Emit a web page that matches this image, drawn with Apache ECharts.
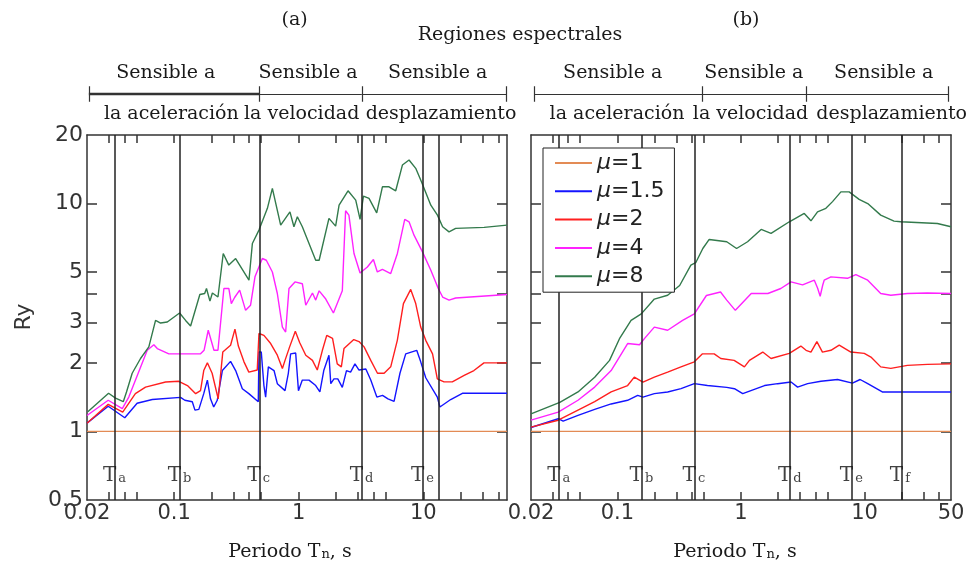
<!DOCTYPE html>
<html>
<head>
<meta charset="utf-8">
<script src="https://cdn.jsdelivr.net/npm/echarts@6/dist/echarts.min.js"></script>
<style>
  html, body { margin: 0; padding: 0; background: #fff; }
  #chart { width: 976px; height: 567px; }
</style>
</head>
<body>
<div id="chart"></div>
<script>
// Yield-strength reduction factor Ry versus natural period Tn (s),
// two ground motions (a) and (b), one curve per ductility factor μ.

const muNames = ['μ=1', 'μ=1.5', 'μ=2', 'μ=4', 'μ=8'];

// ---- panel (a): [period, Ry] ----
const a_mu1 = [[0.02, 1], [47, 1]];
const a_mu15 = [[0.02,1.087],[0.0296,1.29],[0.0402,1.148],[0.0505,1.33],[0.0668,1.38],[0.1127,1.41],[0.122,1.37],[0.14,1.35],[0.147,1.24],[0.158,1.25],[0.173,1.465],[0.185,1.68],[0.196,1.39],[0.208,1.28],[0.222,1.37],[0.244,1.85],[0.284,2.03],[0.312,1.85],[0.353,1.54],[0.398,1.465],[0.474,1.35],[0.48,2.23],[0.501,2.23],[0.526,1.59],[0.543,1.415],[0.571,1.92],[0.634,1.85],[0.674,1.62],[0.777,1.51],[0.826,1.8],[0.862,2.19],[0.946,2.21],[0.996,1.51],[1.07,1.68],[1.21,1.68],[1.37,1.59],[1.48,1.49],[1.59,1.85],[1.75,2.16],[1.81,1.62],[1.92,1.70],[2.06,1.70],[2.24,1.56],[2.42,1.85],[2.61,1.82],[2.83,1.98],[3.05,1.86],[3.46,1.88],[3.79,1.68],[4.24,1.415],[4.71,1.44],[5.21,1.39],[5.83,1.355],[6.5,1.8],[7.23,2.19],[8.86,2.27],[9.54,2.02],[10.47,1.72],[12.97,1.415],[13.6,1.28],[16.6,1.38],[20.6,1.47],[47,1.47]];
const a_mu2 = [[0.02,1.087],[0.0296,1.314],[0.0387,1.215],[0.0489,1.465],[0.059,1.565],[0.0855,1.647],[0.109,1.66],[0.128,1.59],[0.149,1.465],[0.163,1.51],[0.173,1.85],[0.185,2.0],[0.202,1.8],[0.226,1.39],[0.246,2.23],[0.284,2.39],[0.308,2.81],[0.328,2.37],[0.364,2.02],[0.398,1.82],[0.465,1.86],[0.48,2.69],[0.526,2.64],[0.596,2.43],[0.674,2.16],[0.74,1.89],[0.777,2.05],[0.846,2.35],[0.94,2.75],[1.02,2.45],[1.14,2.16],[1.29,2.05],[1.41,1.86],[1.55,2.27],[1.68,2.64],[1.87,2.56],[2.04,1.98],[2.2,1.92],[2.31,2.31],[2.53,2.42],[2.77,2.53],[3.05,2.48],[3.35,2.35],[3.79,2.05],[4.29,1.8],[4.85,1.8],[5.48,1.92],[6.19,2.51],[6.93,3.64],[7.93,4.2],[8.7,3.64],[9.54,2.87],[10.47,2.51],[11.87,2.19],[12.97,1.7],[14.67,1.65],[17.1,1.65],[21.3,1.76],[25.5,1.85],[30.7,2.0],[47,2.0]];
const a_mu4 = [[0.02,1.175],[0.0296,1.37],[0.0384,1.26],[0.0433,1.415],[0.0609,2.27],[0.0688,2.40],[0.0733,2.31],[0.0908,2.19],[0.163,2.19],[0.174,2.27],[0.188,2.78],[0.209,2.27],[0.225,2.27],[0.251,4.24],[0.275,4.24],[0.288,3.64],[0.306,3.87],[0.336,4.17],[0.375,3.40],[0.411,3.58],[0.446,4.77],[0.511,5.74],[0.550,5.64],[0.615,5.01],[0.674,4.03],[0.740,2.87],[0.786,2.73],[0.836,4.24],[0.934,4.53],[1.07,4.45],[1.14,3.58],[1.29,4.05],[1.37,3.77],[1.46,4.14],[1.65,3.81],[1.90,3.31],[2.24,4.14],[2.38,9.30],[2.53,8.90],[2.78,6.04],[3.11,4.96],[3.56,5.27],[3.98,5.68],[4.28,5.01],[4.70,5.14],[5.48,4.93],[6.20,6.04],[7.10,8.52],[7.69,8.32],[8.43,7.27],[9.85,6.14],[11.5,5.10],[13.2,4.24],[14.3,3.89],[16.1,3.77],[18.2,3.85],[47,3.99]];
const a_mu8 = [[0.0203,1.22],[0.0298,1.47],[0.0339,1.40],[0.0391,1.35],[0.0415,1.49],[0.0461,1.80],[0.0538,2.09],[0.0627,2.35],[0.071,3.07],[0.0779,2.99],[0.0882,3.02],[0.1107,3.31],[0.1237,3.07],[0.1357,2.90],[0.161,3.99],[0.176,4.03],[0.182,4.24],[0.194,3.73],[0.203,4.05],[0.225,3.89],[0.248,6.04],[0.275,5.37],[0.312,5.74],[0.399,4.61],[0.425,6.68],[0.48,7.65],[0.561,9.53],[0.615,11.66],[0.717,8.04],[0.851,9.20],[0.916,7.91],[0.976,8.75],[1.07,7.91],[1.37,5.64],[1.46,5.64],[1.75,8.61],[1.98,7.96],[2.11,9.84],[2.49,11.38],[2.87,10.36],[3.11,8.52],[3.31,10.79],[3.67,10.54],[4.23,9.11],[4.70,11.85],[5.31,11.85],[6.01,11.38],[6.80,14.76],[7.69,15.53],[8.70,14.28],[9.67,12.46],[11.5,9.84],[13.0,8.90],[14.3,7.91],[16.1,7.51],[18.2,7.78],[30.8,7.86],[47,8.04]];

// ---- panel (b): [period, Ry] ----
const b_mu1 = [[0.02, 1], [50, 1]];
const b_mu15 = [[0.02,1.04],[0.0332,1.137],[0.0364,1.11],[0.048,1.175],[0.0655,1.25],[0.089,1.32],[0.121,1.37],[0.146,1.44],[0.161,1.415],[0.199,1.465],[0.255,1.49],[0.327,1.54],[0.419,1.62],[0.535,1.59],[0.767,1.56],[0.885,1.54],[1.033,1.465],[1.55,1.59],[1.98,1.62],[2.54,1.647],[2.87,1.565],[3.46,1.62],[4.43,1.66],[6.04,1.69],[7.97,1.63],[9.2,1.69],[10.6,1.62],[13.9,1.49],[50,1.49]];
const b_mu2 = [[0.02,1.044],[0.0332,1.12],[0.048,1.24],[0.0655,1.35],[0.089,1.49],[0.121,1.59],[0.137,1.73],[0.161,1.647],[0.199,1.73],[0.255,1.82],[0.327,1.92],[0.419,2.02],[0.488,2.19],[0.607,2.19],[0.686,2.09],[0.88,2.05],[1.066,1.92],[1.17,2.05],[1.5,2.23],[1.75,2.09],[2.46,2.2],[3.05,2.37],[3.36,2.27],[3.68,2.23],[4.11,2.48],[4.56,2.23],[5.34,2.27],[6.23,2.39],[7.74,2.23],[9.94,2.2],[11.25,2.12],[13.5,1.92],[16.3,1.89],[22.2,1.95],[32.2,1.97],[50,1.98]];
const b_mu4 = [[0.02,1.12],[0.0332,1.215],[0.048,1.37],[0.0655,1.565],[0.089,1.85],[0.121,2.43],[0.151,2.40],[0.166,2.56],[0.199,2.87],[0.255,2.78],[0.337,3.07],[0.419,3.28],[0.525,3.95],[0.683,4.09],[0.767,3.77],[0.9,3.40],[1.21,4.03],[1.65,4.03],[2.1,4.24],[2.54,4.53],[3.15,4.40],[3.92,4.61],[4.17,4.25],[4.37,3.92],[4.58,4.38],[4.71,4.61],[5.34,4.77],[7.27,4.70],[8.49,4.88],[10.6,4.61],[13.5,4.03],[16.3,3.96],[22.2,4.03],[32.2,4.05],[50,4.03]];
const b_mu8 = [[0.02,1.195],[0.0342,1.34],[0.048,1.49],[0.0655,1.73],[0.0864,2.05],[0.1046,2.57],[0.129,3.07],[0.156,3.28],[0.199,3.81],[0.255,3.96],[0.319,4.37],[0.393,5.37],[0.43,5.5],[0.491,6.35],[0.553,6.96],[0.767,6.8],[0.921,6.35],[1.13,6.8],[1.455,7.7],[1.75,7.4],[2.46,8.32],[3.25,9.05],[3.68,8.4],[4.16,9.2],[4.86,9.53],[5.5,10.2],[6.43,11.26],[7.5,11.26],[9.03,10.43],[10.6,10.0],[13.5,8.9],[17.3,8.38],[19.6,8.32],[38.8,8.18],[50,7.91]];

// characteristic periods (vertical lines) and their subscripts
const periodsA = [0.0335, 0.111, 0.483, 3.21, 9.95, 13.2];
const periodNamesA = ['a', 'b', 'c', 'd', 'e', ''];
const periodsB = [0.0338, 0.157, 0.421, 2.49, 7.88, 20];
const periodNamesB = ['a', 'b', 'c', 'd', 'e', 'f'];

// spectral-region bracket boundaries (periods)
const regionEdgesA = [0.0207, 0.483, 3.21, 46.5];
const regionEdgesB = [0.0214, 0.49, 3.36, 47.8];

// axis ticks and labels
const xTickVals = [0.03, 0.04, 0.05, 0.1, 0.2, 0.3, 0.4, 0.5, 1, 2, 3, 4, 5, 10, 20, 30, 40];
const xLabelValsA = [0.02001, 0.1, 1, 10];
const xLabelValsB = [0.02001, 0.1, 1, 10, 49.999];
const yTickVals = [1, 2, 3, 4, 5, 10];
const yLabelVals = [0.5001, 1, 2, 3, 5, 10, 19.999];

const colors = ['#e38b55', '#1414ff', '#ff1f1f', '#ff22ff', '#337a4c'];
const SANS = "'DejaVu Sans', sans-serif";
const SERIF = "'DejaVu Serif', serif";
const INK = '#333';

const fmt = v => String(parseFloat(Number(v).toPrecision(3)));

const gridA = { left: 87, top: 135, width: 420, height: 365 };
const gridB = { left: 531, top: 135, width: 420, height: 365 };

function xAxis(gridIndex, pos, max, labelVals) {
  return {
    type: 'log', logBase: 10, min: 0.02, max: max, gridIndex, position: pos,
    axisLine: { show: true, onZero: false, lineStyle: { color: INK, width: 1.5 } },
    axisTick: { show: true, inside: true, length: 8, customValues: xTickVals, lineStyle: { color: INK, width: 1.5 } },
    axisLabel: labelVals
      ? { show: true, customValues: labelVals, margin: 3, fontFamily: SANS, fontSize: 21, color: INK, formatter: fmt }
      : { show: false },
    splitLine: { show: false }, minorTick: { show: false }
  };
}
function yAxis(gridIndex, pos, withLabels) {
  return {
    type: 'log', logBase: 10, min: 0.5, max: 20, gridIndex, position: pos,
    axisLine: { show: true, onZero: false, lineStyle: { color: INK, width: 1.5 } },
    axisTick: { show: true, inside: true, length: 10, customValues: yTickVals, lineStyle: { color: INK, width: 1.5 } },
    axisLabel: withLabels
      ? { show: true, customValues: yLabelVals, margin: 4, fontFamily: SANS, fontSize: 22, color: INK, formatter: fmt }
      : { show: false },
    splitLine: { show: false }, minorTick: { show: false }
  };
}
function hiddenX(gridIndex, max) {
  return { type: 'log', logBase: 10, min: 0.02, max: max, gridIndex, show: false };
}
function hiddenY(gridIndex) {
  return { type: 'value', min: 0, max: 1, gridIndex, show: false };
}

function curve(name, data, color, xi, yi, extra) {
  return Object.assign({
    name, type: 'line', data, xAxisIndex: xi, yAxisIndex: yi,
    symbol: 'none', showSymbol: false, silent: true, animation: false,
    lineStyle: { color, width: 1.4 }, itemStyle: { color }, z: 3
  }, extra || {});
}

function periodLines(periods) {
  return {
    silent: true, symbol: 'none', animation: false, precision: 6,
    label: { show: false },
    lineStyle: { color: '#222', width: 1.5, type: 'solid' },
    emphasis: { disabled: true },
    data: periods.map(t => ({ xAxis: t }))
  };
}

function periodLabels(periods, names, xi, yi) {
  return {
    type: 'scatter', xAxisIndex: xi, yAxisIndex: yi, silent: true, animation: false,
    symbolSize: 1, itemStyle: { color: 'rgba(0,0,0,0)' }, z: 5,
    data: periods.map((t, i) => ({ value: [t, 0.64], name: names[i] })).filter(d => d.name),
    label: {
      show: true, position: 'inside', align: 'left', offset: [-12, 0],
      formatter: p => '{t|T}{s|' + p.name + '}',
      rich: {
        t: { fontFamily: SERIF, fontSize: 20, lineHeight: 20, color: '#111' },
        s: { fontFamily: SERIF, fontSize: 13, lineHeight: 13, color: '#111', padding: [12, 0, 0, 2], verticalAlign: 'bottom' }
      }
    }
  };
}

function bracket(edges, xi, yi, thickFirst) {
  const segs = [];
  for (let i = 0; i < edges.length - 1; i++) {
    segs.push({ coords: [[edges[i], 0.5], [edges[i + 1], 0.5]],
                lineStyle: { width: (thickFirst && i === 0) ? 2.4 : 1.2 } });
  }
  edges.forEach(e => segs.push({ coords: [[e, 0.02], [e, 0.98]], lineStyle: { width: 1.2 } }));
  return {
    type: 'lines', coordinateSystem: 'cartesian2d', xAxisIndex: xi, yAxisIndex: yi,
    silent: true, animation: false, polyline: false, effect: { show: false },
    lineStyle: { color: INK, width: 1.2, opacity: 1, curveness: 0 },
    data: segs
  };
}

function serifText(x, y, text, size) {
  return {
    type: 'text', x, y, silent: true,
    style: {
      text, fill: '#1a1a1a', font: (size || 19) + 'px ' + SERIF,
      align: 'center', verticalAlign: 'middle',
      rich: { n: { fontFamily: SERIF, fontSize: 13, lineHeight: 13, fill: '#1a1a1a', padding: [12, 0, 0, 1], verticalAlign: 'bottom' } }
    }
  };
}

const chart = echarts.init(document.getElementById('chart'), null, { renderer: 'canvas' });

const option = {
  animation: false,
  backgroundColor: '#fff',
  grid: [
    gridA, gridB,
    { left: 87, top: 86, width: 420, height: 16 },
    { left: 531, top: 86, width: 420, height: 16 }
  ],
  xAxis: [
    xAxis(0, 'bottom', 47, xLabelValsA),
    xAxis(0, 'top', 47, null),
    xAxis(1, 'bottom', 50, xLabelValsB),
    xAxis(1, 'top', 50, null),
    hiddenX(2, 47),
    hiddenX(3, 50)
  ],
  yAxis: [
    yAxis(0, 'left', true),
    yAxis(0, 'right', false),
    yAxis(1, 'left', false),
    yAxis(1, 'right', false),
    hiddenY(2),
    hiddenY(3)
  ],
  legend: {
    data: muNames, orient: 'vertical', left: 543, top: 148,
    padding: [3, 10, 4, 12], itemWidth: 37, itemHeight: 2, itemGap: 4.3, icon: 'rect',
    backgroundColor: '#fff', borderColor: '#222', borderWidth: 1, borderRadius: 0,
    selectedMode: false, z: 10,
    formatter: n => '{m|μ}' + n.slice(1),
    textStyle: {
      fontFamily: SANS, fontSize: 22, lineHeight: 24, color: '#222',
      rich: { m: { fontFamily: SANS, fontSize: 22, lineHeight: 24, fontStyle: 'italic', color: '#222' } }
    }
  },
  series: [
    curve(muNames[0], a_mu1, colors[0], 0, 0, { markLine: periodLines(periodsA) }),
    curve(muNames[1], a_mu15, colors[1], 0, 0),
    curve(muNames[2], a_mu2, colors[2], 0, 0),
    curve(muNames[3], a_mu4, colors[3], 0, 0),
    curve(muNames[4], a_mu8, colors[4], 0, 0),
    curve(muNames[0], b_mu1, colors[0], 2, 2, { markLine: periodLines(periodsB) }),
    curve(muNames[1], b_mu15, colors[1], 2, 2),
    curve(muNames[2], b_mu2, colors[2], 2, 2),
    curve(muNames[3], b_mu4, colors[3], 2, 2),
    curve(muNames[4], b_mu8, colors[4], 2, 2),
    periodLabels(periodsA, periodNamesA, 0, 0),
    periodLabels(periodsB, periodNamesB, 2, 2),
    bracket(regionEdgesA, 4, 4, true),
    bracket(regionEdgesB, 5, 5, false)
  ],
  graphic: [
    serifText(294.7, 20, '(a)'),
    serifText(746, 20, '(b)'),
    serifText(520, 35, 'Regiones espectrales'),
    serifText(165.8, 73, 'Sensible a'),
    serifText(308, 73, 'Sensible a'),
    serifText(437.7, 73, 'Sensible a'),
    serifText(612.7, 73, 'Sensible a'),
    serifText(753.8, 73, 'Sensible a'),
    serifText(883.7, 73, 'Sensible a'),
    serifText(171.3, 114, 'la aceleración'),
    serifText(301.7, 114, 'la velocidad'),
    serifText(441, 114, 'desplazamiento'),
    serifText(617, 114, 'la aceleración'),
    serifText(750.5, 114, 'la velocidad'),
    serifText(891.7, 114, 'desplazamiento'),
    serifText(290, 552, 'Periodo T{n|n}, s'),
    serifText(735, 552, 'Periodo T{n|n}, s'),
    {
      type: 'text', x: 24, y: 317, rotation: Math.PI / 2, silent: true,
      style: { text: 'Ry', fill: INK, font: '22px ' + SANS, align: 'center', verticalAlign: 'middle' }
    }
  ]
};

chart.setOption(option);
</script>
</body>
</html>
